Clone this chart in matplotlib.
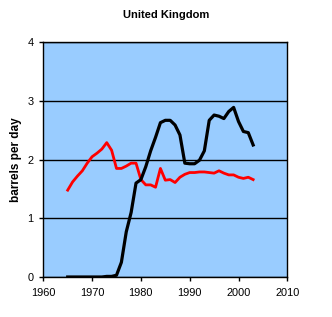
import matplotlib
matplotlib.use('Agg')
import matplotlib.pyplot as plt

plt.rcParams['font.family'] = ['Liberation Sans', 'DejaVu Sans']

years = list(range(1965, 2004))
# production (black)
production = [0.00, 0.00, 0.00, 0.00, 0.00, 0.00, 0.00, 0.00, 0.01, 0.01,
              0.03, 0.25, 0.77, 1.10, 1.60, 1.66, 1.88, 2.15, 2.38, 2.63,
              2.67, 2.67, 2.59, 2.42, 1.94, 1.93, 1.93, 1.99, 2.15, 2.67,
              2.76, 2.74, 2.70, 2.82, 2.89, 2.65, 2.48, 2.46, 2.25]
# consumption (red)
consumption = [1.48, 1.62, 1.72, 1.81, 1.94, 2.05, 2.11, 2.18, 2.29, 2.16,
               1.85, 1.85, 1.89, 1.94, 1.94, 1.66, 1.57, 1.57, 1.53, 1.85,
               1.65, 1.66, 1.61, 1.70, 1.75, 1.78, 1.78, 1.79, 1.79, 1.78,
               1.77, 1.81, 1.77, 1.74, 1.74, 1.70, 1.68, 1.70, 1.66]

fig = plt.figure(figsize=(3.32, 3.17), dpi=100)
ax = fig.add_axes([0.1304, 0.1262, 0.7350, 0.7404])
ax.set_facecolor('#99CCFF')

ax.plot(years, consumption, color='#FF0000', lw=2.0, zorder=3)
ax.plot(years, production, color='#000000', lw=2.3, zorder=4)

ax.set_xlim(1960, 2010)
ax.set_ylim(0, 4)
ax.set_xticks([1960, 1970, 1980, 1990, 2000, 2010])
ax.set_yticks([0, 1, 2, 3, 4])
ax.yaxis.grid(True, color='black', lw=1.0)
ax.set_axisbelow(True)
for s in ax.spines.values():
    s.set_linewidth(1.0)
ax.tick_params(direction='out', length=3, width=1, labelsize=7.9)
ax.tick_params(axis='x', pad=5)
ax.tick_params(axis='y', pad=4)

ax.set_ylabel('barrels per day', fontsize=8.5, fontweight='bold', labelpad=4)
fig.text(0.5, 0.953, 'United Kingdom', ha='center', va='center',
         fontsize=8, fontweight='bold')

fig.savefig('out.png', dpi=100)
